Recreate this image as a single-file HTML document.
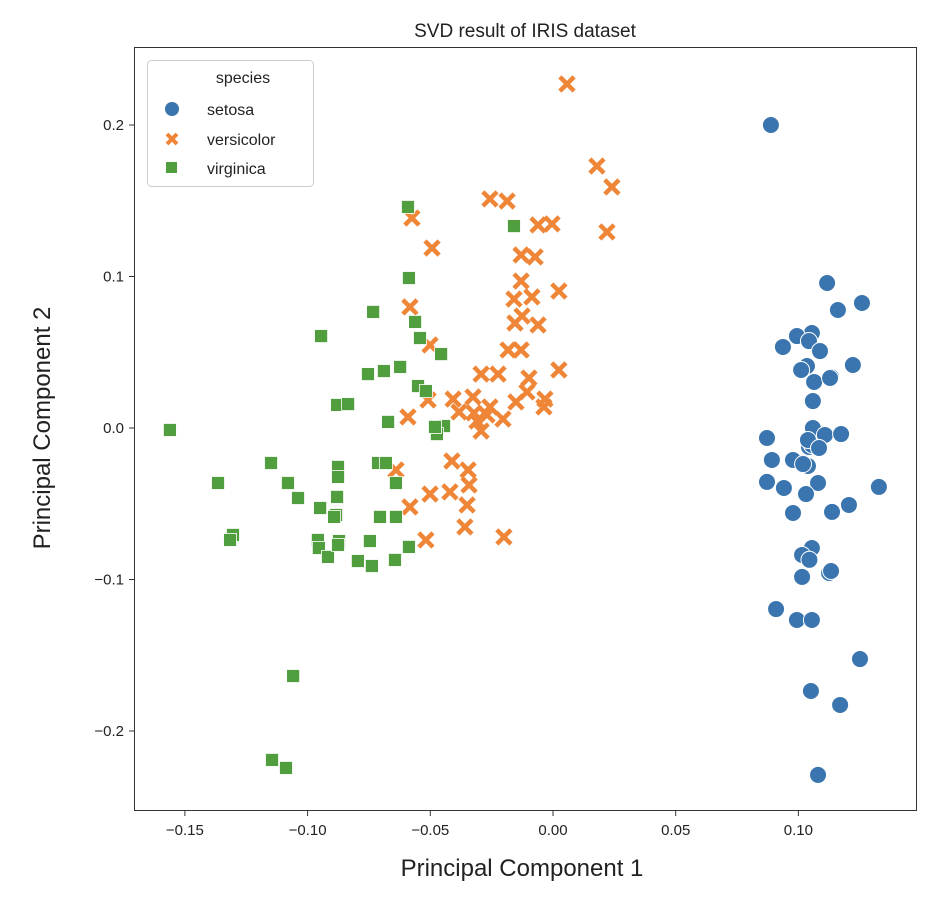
<!DOCTYPE html>
<html><head><meta charset="utf-8"><style>
html,body{margin:0;padding:0;background:#fff;}
svg text{font-family:"Liberation Sans","DejaVu Sans",sans-serif;fill:#222;}
</style></head><body>
<svg id="chart" width="936" height="900" xmlns="http://www.w3.org/2000/svg">
<text x="525" y="37" font-size="19" text-anchor="middle">SVD result of IRIS dataset</text>
<g id="marks"></g>
<rect x="134.5" y="47.5" width="782" height="763" fill="none" stroke="#333" stroke-width="1"/>
<g id="axes"></g>
<text x="522" y="876" font-size="24" text-anchor="middle">Principal Component 1</text>
<text transform="translate(50,428) rotate(-90)" font-size="24" text-anchor="middle">Principal Component 2</text>
<g>
<rect x="147.5" y="60.5" width="166" height="126" rx="4" fill="#fff" fill-opacity="0.85" stroke="#ccc"/>
<text x="243" y="83" font-size="16" text-anchor="middle">species</text>
<circle cx="172" cy="109" r="7" fill="#3a75af"/>
<text x="207" y="115" font-size="16">setosa</text>
<path d="M167,134L177,144M167,144L177,134" stroke="#ef8536" stroke-width="4" fill="none"/>
<text x="207" y="145" font-size="16">versicolor</text>
<rect x="166" y="162" width="11" height="11" fill="#519e3e"/>
<text x="207" y="174" font-size="16">virginica</text>
</g>
</svg>
<script>
const xTicks=[-0.15,-0.10,-0.05,0.00,0.05,0.10];
const xTickLabels=["−0.15","−0.10","−0.05","0.00","0.05","0.10"];
const yTicks=[0.2,0.1,0.0,-0.1,-0.2];
const yTickLabels=["0.2","0.1","0.0","−0.1","−0.2"];
const setosaX=[0.0888,0.1117,0.1259,0.1161,0.0937,0.1055,0.0994,0.1043,0.1088,0.1035,0.1011,0.1222,0.1064,0.1133,0.1129,0.1059,0.1059,0.0872,0.1108,0.1174,0.1043,0.1055,0.0978,0.1031,0.1039,0.0872,0.0941,0.1080,0.1031,0.1328,0.0978,0.1137,0.1206,0.1055,0.1015,0.1125,0.1133,0.1015,0.0909,0.0994,0.1055,0.1051,0.1251,0.1170,0.1080,0.1039,0.1019,0.1084,0.1045,0.0892];
const setosaY=[0.200,0.0957,0.0825,0.0779,0.0535,0.0627,0.0607,0.0574,0.0508,0.0409,0.0383,0.0416,0.0304,0.0337,0.0330,0.0178,0.0,-0.0066,-0.0046,-0.0040,-0.0125,-0.0112,-0.0211,-0.0244,-0.0251,-0.0356,-0.0396,-0.0363,-0.0436,-0.0389,-0.0561,-0.0554,-0.0508,-0.0792,-0.0838,-0.0957,-0.0944,-0.0983,-0.1195,-0.1267,-0.1267,-0.1736,-0.1525,-0.1828,-0.2290,-0.0079,-0.0238,-0.0132,-0.0870,-0.0211];
const versiX=[0.0057,0.0179,0.0240,0.0220,-0.0257,-0.0187,-0.0061,-0.0004,-0.0575,-0.0493,-0.0130,-0.0073,-0.0130,-0.0159,-0.0086,0.0024,-0.0126,-0.0155,-0.0061,-0.0583,-0.0501,-0.0130,-0.0183,-0.0293,-0.0224,-0.0098,-0.0106,0.0024,-0.0591,-0.0509,-0.0326,-0.0322,-0.0257,-0.0269,-0.0383,-0.0310,-0.0151,-0.0033,-0.0037,-0.0204,-0.0293,-0.0407,-0.0640,-0.0412,-0.0346,-0.0342,-0.0501,-0.0583,-0.0420,-0.0350,-0.0518,-0.0359,-0.0200];
const versiY=[0.2271,0.1729,0.1591,0.1294,0.1512,0.1498,0.1340,0.1347,0.1386,0.1188,0.1142,0.1129,0.0970,0.0851,0.0865,0.0904,0.0739,0.0693,0.0680,0.0799,0.0548,0.0515,0.0515,0.0356,0.0356,0.0330,0.0238,0.0383,0.0073,0.0185,0.0205,0.0099,0.0139,0.0086,0.0106,0.0046,0.0172,0.0191,0.0139,0.0059,-0.0020,0.0191,-0.0277,-0.0218,-0.0277,-0.0376,-0.0436,-0.0521,-0.0422,-0.0508,-0.0739,-0.0653,-0.0719];
const virgX=[-0.0591,-0.0159,-0.0587,-0.0945,-0.0733,-0.0562,-0.0542,-0.0456,-0.0754,-0.0689,-0.0623,-0.0550,-0.0518,-0.0880,-0.0835,-0.0672,-0.1561,-0.0444,-0.0473,-0.0481,-0.1149,-0.0713,-0.0681,-0.0876,-0.0876,-0.1365,-0.1080,-0.1039,-0.0880,-0.0640,-0.0949,-0.0884,-0.1304,-0.1316,-0.0958,-0.0892,-0.0705,-0.0640,-0.0872,-0.0954,-0.0917,-0.0746,-0.0795,-0.0738,-0.0644,-0.1059,-0.1145,-0.1088,-0.0587,-0.0876];
const virgY=[0.1459,0.1333,0.0990,0.0607,0.0766,0.0700,0.0594,0.0488,0.0356,0.0376,0.0403,0.0277,0.0244,0.0152,0.0158,0.0040,-0.0013,0.0013,-0.0040,0.0007,-0.0231,-0.0231,-0.0231,-0.0257,-0.0323,-0.0363,-0.0363,-0.0462,-0.0455,-0.0363,-0.0528,-0.0574,-0.0706,-0.0739,-0.0739,-0.0587,-0.0587,-0.0587,-0.0746,-0.0792,-0.0851,-0.0746,-0.0878,-0.0911,-0.0871,-0.1637,-0.2191,-0.2244,-0.0785,-0.0772];
const NS="http://www.w3.org/2000/svg";
function sx(v){return 553+v*2454;}
function sy(v){return 428-v*1515;}
const axes=document.getElementById('axes');
const marks=document.getElementById('marks');
function mk(tag,attrs,parent){const e=document.createElementNS(NS,tag);for(const k in attrs)e.setAttribute(k,attrs[k]);parent.appendChild(e);return e;}
xTicks.forEach((t,i)=>{
  const l=mk('line',{x1:sx(t),x2:sx(t),y1:811,y2:816,stroke:'#333'},axes);
  
  
  const tx=mk('text',{x:sx(t),y:835,'font-size':15,'text-anchor':'middle'},axes);
  tx.textContent=xTickLabels[i];
  
  
});
yTicks.forEach((t,i)=>{
  const l=mk('line',{x1:129,x2:134,y1:sy(t),y2:sy(t),stroke:'#333'},axes);
  
  
  const tx=mk('text',{x:124,y:sy(t)+5,'font-size':15,'text-anchor':'end'},axes);
  tx.textContent=yTickLabels[i];
  
  
});
setosaX.forEach((v,i)=>{
  const c=mk('circle',{cx:sx(v),cy:sy(setosaY[i]),r:8.5,fill:'#3a75af',stroke:'#fff','stroke-width':1},marks);
  
  
});
versiX.forEach((v,i)=>{
  const x=sx(v),y=sy(versiY[i]),d=5.5;
  const p=mk('path',{d:`M${x-d},${y-d}L${x+d},${y+d}M${x-d},${y+d}L${x+d},${y-d}`,stroke:'#ef8536','stroke-width':4.5,'stroke-linecap':'square',fill:'none'},marks);
  
  
});
virgX.forEach((v,i)=>{
  const r=mk('rect',{x:sx(v)-6.5,y:sy(virgY[i])-6.5,width:13,height:13,fill:'#519e3e',stroke:'#fff','stroke-width':0.8},marks);
  
  
});
</script>
</body></html>
